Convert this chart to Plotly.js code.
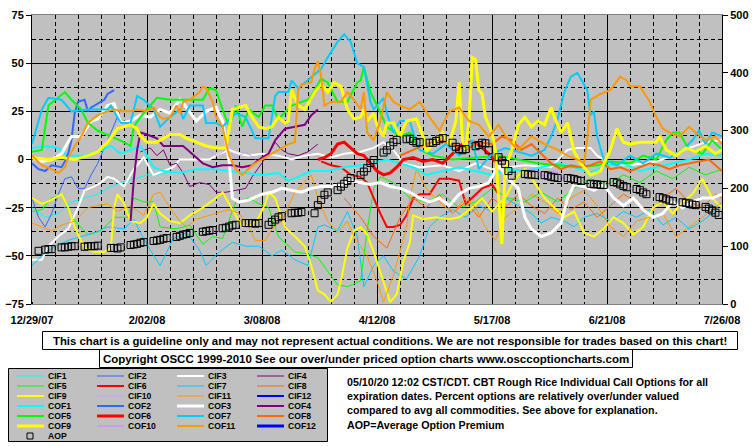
<!DOCTYPE html>
<html><head><meta charset="utf-8">
<script src="https://cdn.plot.ly/plotly-3.0.1.min.js"></script>
<style>html,body{margin:0;padding:0;background:#fff}#chart{width:755px;height:446px}</style>
</head><body><div id="chart"></div>
<script>
// ---------- DATA (day offsets from 2007-12-29, percent values) ----------
const START = '2007-12-29';
const xTickLabels = ['12/29/07','2/02/08','3/08/08','4/12/08','5/17/08','6/21/08','7/26/08'];
const seriesNames = ['CIF1','CIF2','CIF3','CIF4','CIF5','CIF6','CIF7','CIF8','CIF9','CIF10','CIF11','CIF12',
                     'COF1','COF2','COF3','COF4','COF5','COF6','COF7','COF8','COF9','COF10','COF11','COF12'];

const CIF1 = [[0,-25],[4,-30],[8,-28],[12,-22],[16,-20],[20,-18],[24,-14],[27,-12],[31,-10],[35,-8],[38,-8],[42,-6]];
const CIF2 = [[0,-20],[2,-30],[4,-35],[6,-28],[8,-18],[10,-10],[12,-9],[14,-15],[16,-15],[18,-8],[20,-2],[22,6],[24,14],[26,22],[27,26]];
const CIF3 = [[0,-52],[3,-52],[5,-45],[8,-40],[11,-36],[14,-25],[16,-16],[19,-14],[21,-12],[23,-9],[25,-10],[28,-14],[31,-5],[34,1],[37,-8],[40,-6],[43,-4],[45,0],[50,0],[54,0],[57,3],[60,5],[63,3],[66,2],[70,3],[75,2],[79,0],[83,2],[87,3],[91,1],[95,3],[100,4],[104,6],[107,9],[110,5],[113,-2],[118,-4],[125,-3],[130,-6],[135,-2],[140,-5],[150,-3],[158,-4],[163,5],[166,6],[170,6],[172,2],[176,-2],[182,-3],[190,-1],[195,2],[200,6],[205,9],[210,10]];
const CIF4 = [[33,4],[36,6],[38,2],[40,5],[42,-3],[44,-2],[46,-7],[48,-14],[51,-12],[54,-13],[56,-17],[59,-17],[62,-16],[65,-15],[67,-9],[70,-2],[72,3],[74,9],[76,5],[78,3],[81,2],[84,4],[87,8]];
const CIF5 = [[0,-27],[3,-26],[6,-20],[9,-18],[12,-30],[17,-39],[21,-37],[25,-30],[29,-30],[31,-20],[34,-22],[37,-22],[39,-35],[44,-36],[48,-34],[52,-44],[55,-40],[58,-41],[62,-22],[66,-20],[69,-23],[72,-25],[75,-40],[80,-48],[84,-49],[87,-51],[90,-58],[93,-65],[96,-66],[100,-63],[102,-37],[104,-15],[106,-9],[110,-12],[115,-20],[120,-22],[125,-18],[130,-25],[135,-22],[140,-15],[145,-20],[150,-22],[155,-17],[160,-22],[165,-15],[170,-10],[175,-13],[180,-8],[185,-12],[190,-6],[195,-10],[200,-4],[205,-8],[210,-5]];
const CIF6 = [[88,-1],[91,-3],[94,-4],[97,-8],[100,-9],[102,-12],[104,-20],[106,-28],[108,-35],[110,-35],[112,-34],[114,-29],[116,-20],[118,-18],[121,-18],[124,-10],[127,-10],[130,-11],[132,-23],[134,-20],[137,-15],[140,-13],[142,-18]];
const CIF7 = [[0,-55],[3,-50],[7,-45],[11,-42],[15,-40],[19,-38],[23,-35],[28,-36],[31,-31],[33,-38],[36,-47],[39,-55],[43,-41],[47,-38],[51,-47],[53,-55],[57,-48],[61,-43],[65,-45],[69,-45],[73,-50],[76,-47],[80,-52],[84,-55],[87,-35],[89,-34],[93,-37],[96,-27],[99,-40],[101,-66],[104,-55],[107,-50],[110,-58],[114,-62],[118,-50],[121,-35],[124,-30],[128,-26],[132,-30],[136,-24],[140,-27],[144,-20],[148,-24],[152,-28],[155,-33],[158,-30],[162,-32],[165,-35],[168,-30],[172,-28],[176,-32],[180,-27],[184,-30],[188,-26],[192,-34],[196,-30],[200,-36],[204,-32],[207,-28],[210,-22]];
const CIF8 = [[95,-20],[100,-30],[104,-40],[108,-46],[112,-30],[116,-20],[120,-25],[124,-18],[128,-28],[132,-22],[136,-30],[140,-20],[144,-25],[148,-18],[152,-24],[156,-28],[160,-20],[164,-26],[168,-22],[172,-30],[176,-24],[180,-18],[184,-22],[188,-28],[192,-20],[196,-15],[200,-22],[204,-25],[208,-18],[210,-20]];
const CIF9 = [[0,-20],[3,-23],[6,-21],[9,-18],[11,-25],[13,-35],[16,-46],[19,-48],[22,-48],[24,-46],[25,-25],[26,-18],[28,-23],[30,-32],[33,-33],[35,-30],[37,-23],[39,-28],[42,-32],[45,-33],[48,-29],[52,-25],[56,-20],[58,-17],[60,-23],[64,-35],[67,-34],[69,-30],[71,-23],[72,-17],[74,-20],[77,-35],[80,-40],[83,-45],[85,-55],[87,-68],[89,-70],[91,-74],[93,-70],[94,-63],[96,-46],[98,-37],[100,-35],[102,-39],[104,-48],[107,-63],[109,-74],[111,-70],[113,-53],[115,-43],[116,-29],[119,-31],[123,-30],[127,-31],[130,-30],[134,-25],[137,-20],[140,-27],[144,-20],[147,-10],[150,-5],[153,-12],[156,-20],[159,-25],[162,-30],[165,-27],[168,-38],[171,-40],[174,-36],[177,-30],[180,-33],[183,-39],[186,-35],[189,-25],[192,-22],[195,-28],[198,-22],[201,-18],[204,-10],[207,-20],[210,-25]];
const CIF10 = [[50,3],[53,6],[56,2],[59,5],[62,1],[65,4],[68,0]];
const CIF11 = [[0,-33],[3,-35],[6,-37],[9,-34],[13,-32],[17,-25],[23,-23],[26,-27],[30,-24],[34,-29],[37,-18],[39,-17],[42,-25],[45,-32],[47,-35],[50,-31],[52,-30],[56,-28],[60,-26],[63,-28],[66,-35],[68,-42],[71,-42],[73,-36],[76,-32],[80,-17],[85,-8],[87,-20],[90,-32],[93,-38],[96,-32],[98,-40],[102,-50],[105,-63],[107,-74],[110,-60],[114,-35],[115,-20],[117,-5],[120,-15],[124,-22],[128,-28],[132,-20],[135,-25],[138,-35],[141,-42],[144,-30],[148,-25],[152,-18],[156,-22],[160,-28],[164,-20],[168,-16],[172,-24],[176,-35],[180,-40],[184,-32],[188,-30],[192,-28],[196,-40],[200,-35],[204,-30],[208,-25],[210,-22]];
const CIF12 = [];
const COF1 = [[0,6],[4,7],[8,6],[10,3],[12,2],[16,2],[20,4],[24,7],[27,3],[30,5],[33,7],[35,2],[37,-4],[40,-6],[45,-7],[50,-5],[55,-5],[60,-6],[65,-7],[70,-8],[75,-7],[78,-11],[81,-9],[85,-6],[90,-6],[95,-4],[100,-3],[105,-1],[108,0],[112,-2],[116,-4],[120,-8],[125,-6],[130,-4],[135,-6],[140,-8],[145,-5],[150,-6],[155,-4],[160,-2],[165,-4],[170,-7],[175,-3],[180,-2],[185,-6],[190,-4],[195,-2],[200,0],[205,3],[210,2]];
const COF2 = [[0,-2],[2,-5],[4,-6],[6,-3],[9,-4],[10,-1],[11,3],[12,10],[13,24],[14,30],[16,31],[17,25],[18,27],[20,29],[22,31],[23,34],[25,36]];
const COF3 = [[0,1],[3,-1],[6,0],[9,3],[12,12],[15,12],[18,20],[20,21],[23,28],[25,29],[27,19],[30,20],[33,23],[36,22],[39,26],[42,24],[45,31],[47,27],[50,20],[53,25],[56,27],[58,20],[60,-1],[61,-20],[63,-22],[66,-21],[70,-18],[73,-17],[76,-15],[79,-16],[82,-17],[85,-15],[88,-14],[91,-14],[94,-13],[97,-11],[100,-12],[103,-13],[106,-12],[109,-14],[112,-15],[115,-17],[118,-20],[121,-22],[124,-20],[127,-24],[130,-18],[133,-15],[136,-14],[139,-12],[142,-3],[145,-10],[148,-15],[150,-30],[152,-36],[155,-40],[158,-38],[161,-33],[163,-20],[165,-13],[168,-14],[171,-16],[174,-13],[177,-20],[180,-24],[183,-20],[186,-26],[189,-30],[192,-28],[195,-22],[198,-25],[201,-22],[204,-20],[207,-20],[210,-18]];
const COF4 = [[30,-32],[31,-10],[32,5],[33,14],[35,13],[38,11],[40,7],[43,7],[46,7],[48,4],[50,1],[52,-2],[55,-4],[58,-3],[61,-3],[64,-4],[67,-3],[70,1],[72,3],[74,10],[77,16],[80,17],[83,18],[85,23],[87,26]];
const COF5 = [[0,4],[3,5],[5,28],[8,32],[10,35],[12,31],[15,26],[17,19],[20,15],[24,12],[28,9],[30,7],[31,17],[33,22],[36,28],[38,32],[42,31],[48,31],[52,31],[54,37],[56,36],[58,26],[60,17],[62,28],[64,17],[66,26],[69,22],[71,28],[73,28],[75,21],[79,28],[84,31],[86,36],[88,42],[90,40],[93,30],[96,30],[99,40],[100,41],[101,48],[103,35],[105,28],[108,17],[112,12],[115,14],[118,5],[122,2],[128,0],[135,1],[142,2],[148,0],[154,-2],[160,-3],[166,-4],[172,-3],[176,-1],[182,-2],[186,2],[190,0],[193,10],[195,14],[197,14],[200,5],[204,3],[207,10],[210,5]];
const COF6 = [[87,0],[89,1],[91,3],[93,8],[95,9],[97,6],[99,3],[101,2],[103,-2],[105,-6],[107,-8],[109,-7],[111,-4],[113,0],[116,1],[119,-1],[122,0],[125,-2],[128,3],[131,8],[133,9],[135,9],[137,6],[139,3],[141,-1],[143,0]];
const COF7 = [[0,8],[3,26],[5,32],[9,31],[12,25],[17,26],[23,26],[24,28],[27,19],[30,19],[32,33],[34,31],[37,26],[39,17],[42,22],[45,26],[46,21],[48,28],[52,28],[53,19],[56,19],[58,17],[62,24],[65,22],[68,11],[72,11],[74,33],[75,35],[78,35],[79,41],[81,37],[88,47],[90,53],[93,61],[95,65],[97,61],[99,50],[101,48],[103,30],[104,26],[107,32],[108,24],[110,14],[112,20],[115,20],[116,14],[118,5],[122,3],[126,8],[130,2],[134,10],[136,-5],[140,3],[144,6],[148,4],[152,2],[156,5],[158,12],[160,21],[162,35],[164,43],[166,45],[169,36],[170,23],[171,25],[172,12],[174,0],[178,-3],[182,2],[186,-2],[190,3],[194,1],[198,5],[201,10],[203,15],[205,8],[207,14],[210,12]];
const COF8 = [[112,2],[116,5],[120,8],[124,10],[128,8],[132,5],[136,9],[140,8],[143,12],[146,10],[149,5],[152,8],[155,3],[158,-2],[161,-5],[164,-3],[167,-4],[170,-3],[173,-1],[176,-5],[179,-4],[182,-6],[185,-4],[188,-2],[191,-3],[194,-5],[197,-3],[200,-2],[203,-1],[206,0],[210,-6]];
const COF9 = [[0,1],[5,0],[9,1],[13,0],[17,2],[20,4],[23,9],[26,16],[30,18],[32,16],[33,12],[35,9],[38,9],[42,13],[45,13],[47,11],[50,9],[53,7],[56,6],[59,6],[61,26],[63,27],[65,28],[67,22],[69,17],[71,16],[73,17],[75,22],[77,19],[78,20],[79,36],[81,28],[83,26],[86,35],[88,39],[90,35],[92,40],[94,38],[96,26],[98,21],[100,22],[101,26],[102,20],[104,24],[105,18],[107,12],[108,19],[110,19],[112,12],[114,20],[117,21],[119,12],[120,4],[123,10],[125,14],[127,8],[129,20],[130,40],[131,10],[132,5],[133,20],[134,53],[135,52],[136,36],[137,34],[138,22],[140,14],[141,5],[142,-20],[143,-44],[144,-5],[146,5],[148,18],[150,22],[152,17],[154,20],[156,18],[158,27],[159,22],[161,14],[163,19],[165,4],[167,-2],[170,-8],[173,-6],[176,5],[178,16],[180,9],[182,8],[185,9],[188,9],[190,9],[191,12],[193,5],[196,2],[199,6],[202,4],[205,7],[208,3],[210,5]];
const COF10 = [[150,-8],[153,-5],[156,-9],[159,-6],[162,-10]];
const COF11 = [[0,2],[3,-3],[6,-5],[8,-7],[10,-4],[11,1],[13,7],[15,12],[17,19],[20,23],[23,25],[25,26],[27,25],[30,25],[32,26],[35,25],[37,27],[39,22],[40,21],[42,22],[44,28],[45,24],[46,30],[48,31],[51,35],[52,38],[53,37],[55,30],[56,22],[58,17],[59,9],[60,2],[62,-5],[64,-8],[67,-3],[70,0],[73,3],[76,6],[78,8],[80,9],[81,36],[82,39],[85,40],[86,47],[87,51],[88,43],[89,28],[91,30],[94,30],[96,35],[98,31],[100,26],[101,35],[102,14],[104,10],[106,20],[108,35],[110,30],[112,28],[115,26],[118,30],[121,22],[124,15],[127,25],[130,27],[133,20],[136,18],[139,12],[142,18],[145,10],[148,5],[152,12],[156,8],[160,5],[163,2],[166,0],[168,-2],[169,10],[170,31],[173,34],[176,36],[179,43],[181,41],[182,38],[185,38],[188,30],[190,22],[192,16],[194,14],[197,12],[200,17],[202,14],[205,10],[208,12],[210,8]];
const COF12 = [];

// AOP (right axis), one row per week, Monday..Friday, first Monday 2007-12-31
const AOP_FIRST_MONDAY = 2; // day offset of 2007-12-31
const AOP = [
 [92,null,94,95,95],[98,98,99,100,100],[99,100,100,100,101],[null,97,97,96,98],
 [102,103,104,106,107],[109,110,111,113,114],[116,118,120,121,123],[null,125,126,127,128],
 [131,132,134,136,137],[140,140,140,139,140],[137,142,146,150,152],[157,158,158,159,null],
 [157,171,180,189,193],[197,203,208,213,218],[223,229,235,244,249],[262,266,274,280,284],
 [285,286,282,279,280],[279,279,282,285,287],[279,272,268,266,268],[273,275,279,278,266],
 [254,248,242,230,222],[null,225,224,224,223],[223,222,220,219,218],[218,217,216,214,213],
 [208,207,207,206,206],[211,210,207,204,202],[199,197,193,190,null],[185,183,181,179,178],
 [176,175,174,172,171],[168,165,162,158,154]
];

// ---------- STYLE ----------
const BASE_COLORS = ['#00FFFF','#3366FF','#FFFFFF','#800080','#00FF00','#FF0000','#00CCFF','#FF6600','#FFFF00','#CC99FF','#FF9900','#0000FF'];
const CIF_W = [1,1,2,1,1,2,1,1,2,1,1,2];
const COF_W = [2,2,3,2,2,3,2,2,3,2,2,3];
const FONT = 'Liberation Sans, Arial, Helvetica, sans-serif';

const DAY = 86400000;
const BASE = Date.UTC(2007, 11, 29);
function dayToDate(d){ return new Date(BASE + d*DAY).toISOString().slice(0,10); }

const allSeries = [CIF1,CIF2,CIF3,CIF4,CIF5,CIF6,CIF7,CIF8,CIF9,CIF10,CIF11,CIF12,
                   COF1,COF2,COF3,COF4,COF5,COF6,COF7,COF8,COF9,COF10,COF11,COF12];
const colors = BASE_COLORS.concat(BASE_COLORS);
const widths = CIF_W.concat(COF_W);

const traces = allSeries.map((s, i) => ({
  type: 'scatter', mode: 'lines', name: seriesNames[i],
  x: s.map(p => dayToDate(p[0])), y: s.map(p => p[1]),
  line: {color: colors[i], width: widths[i]}, hoverinfo: 'skip', yaxis: 'y'
}));

const aopX = [], aopY = [];
AOP.forEach((wk, w) => wk.forEach((v, k) => { if (v !== null) { aopX.push(dayToDate(AOP_FIRST_MONDAY + 7*w + k)); aopY.push(v); } }));
traces.push({type:'scatter', mode:'markers', name:'AOP', x: aopX, y: aopY, yaxis:'y2',
  marker:{symbol:'square-open', size:7, color:'#000000', line:{width:1, color:'#000000'}}, hoverinfo:'skip'});

// ---------- layout helpers (pixel -> paper) ----------
const L = 32, R = 722, T = 15, B = 304;
const px = x => (x - L) / (R - L);
const py = y => (B - y) / (B - T);

const shapes = [];
const annotations = [];
function box(x0,y0,x1,y1,fill){ shapes.push({type:'rect', xref:'paper', yref:'paper', x0:px(x0), x1:px(x1), y0:py(y1), y1:py(y0), fillcolor:fill, line:{color:'#000', width:1}, layer:'above'}); }
function txt(t,x,y,anchor,size){ annotations.push({xref:'paper', yref:'paper', x:px(x), y:py(y), xanchor:anchor, yanchor:'middle', showarrow:false, borderpad:0, text:'<b>'+t+'</b>', font:{family:FONT, size:size||11, color:'#000'}}); }

box(42.5,331.5,737.5,349.5,'#FFFFFF');
txt('This chart is a guideline only and may not represent actual conditions. We are not responsible for trades based on this chart!', 390, 340.5, 'center', 11.35);
box(99.5,349.5,632.5,367.5,'#FFFFFF');
txt('Copyright OSCC 1999-2010 See our over/under priced option charts www.osccoptioncharts.com', 366, 358.5, 'center', 11.5);

box(8.5,368.5,327.5,441.5,'#C0C0C0');
const colX = [17, 97, 177, 257];
seriesNames.forEach((n, i) => {
  const row = Math.floor(i/4), col = i % 4;
  const y = 376 + 10*row;
  shapes.push({type:'line', xref:'paper', yref:'paper', x0:px(colX[col]), x1:px(colX[col]+27), y0:py(y), y1:py(y), line:{color:colors[i], width:widths[i]}, layer:'above'});
  txt(n, colX[col]+30, y, 'left', 8.6);
});
shapes.push({type:'rect', xref:'paper', yref:'paper', x0:px(27), x1:px(33), y0:py(439), y1:py(433), line:{color:'#000', width:1}, layer:'above'});
txt('AOP', 47, 436, 'left', 8.6);

const infoLines = ['05/10/20 12:02 CST/CDT. CBT Rough Rice Individual Call Options for all',
  'expiration dates. Percent options are relatively over/under valued',
  'compared to avg all commodities. See above for explanation.',
  'AOP=Average Option Premium'];
const infoY = [382, 396, 410, 425];
infoLines.forEach((t, i) => txt(t, 346, infoY[i], 'left', 10.7));

const DASH = '4px,3px';
const layout = {
  width: 755, height: 446,
  margin: {l: L, r: 755 - R, t: T, b: 446 - B, pad: 0},
  paper_bgcolor: '#FFFFFF', plot_bgcolor: '#C0C0C0',
  showlegend: false,
  font: {family: FONT, size: 11, color: '#000'},
  xaxis: {type:'date', range:[dayToDate(0), dayToDate(210)], tickmode:'array',
    tickvals: xTickLabels.map((t,i)=>dayToDate(35*i)), ticktext: xTickLabels,
    showgrid:true, gridcolor:'#000', gridwidth:1, showline:true, linecolor:'#808080', mirror:true,
    ticks:'', ticklabelstandoff: 6, tickfont:{family:FONT, size:11, weight:'bold'}, zeroline:false,
    minor:{tickmode:'linear', tick0: dayToDate(0), dtick: 7*DAY, showgrid:true, gridcolor:'#000', griddash:DASH, gridwidth:1, ticks:'inside', ticklen:2, tickcolor:'#000'}},
  yaxis: {range:[-75,75], tickmode:'linear', tick0:-75, dtick:25, showgrid:true, gridcolor:'#000', gridwidth:1,
    showline:true, linecolor:'#000', ticks:'outside', ticklen:5, tickcolor:'#000', zeroline:false,
    tickfont:{family:FONT, size:11, weight:'bold'},
    minor:{tickmode:'linear', tick0:-75, dtick:12.5, showgrid:true, gridcolor:'#000', griddash:DASH, gridwidth:1, ticks:''}},
  yaxis2: {range:[0,500], overlaying:'y', side:'right', tickmode:'linear', tick0:0, dtick:100, showgrid:false, zeroline:false,
    showline:true, linecolor:'#000', ticks:'outside', ticklen:5, tickcolor:'#000', tickfont:{family:FONT, size:11, weight:'bold'}},
  shapes: shapes, annotations: annotations
};

Plotly.newPlot('chart', traces, layout, {staticPlot:true, displayModeBar:false});
</script></body></html>
